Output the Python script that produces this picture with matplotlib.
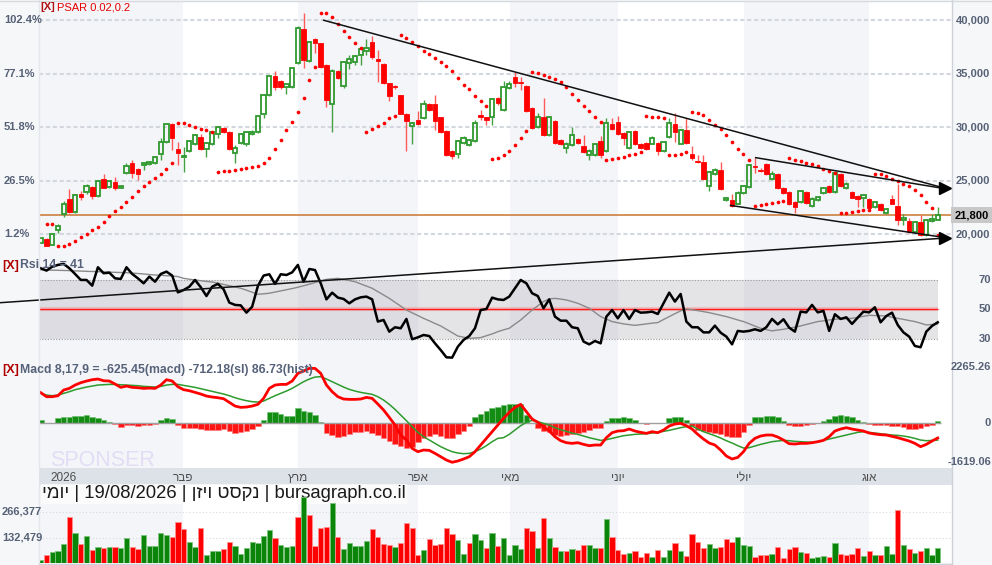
import matplotlib
matplotlib.use('Agg')
import matplotlib.pyplot as plt
import matplotlib.transforms as mtransforms
from matplotlib.lines import Line2D
import numpy as np

plt.rcParams['font.family'] = ['Liberation Sans', 'DejaVu Sans']

# ---------------- data ----------------
open_ = [19220,19600,19030,20440,21930,23340,22060,23740,23960,24430,
         23550,25200,24430,24890,24330,25740,26700,26080,26450,26550,
         26670,27480,28630,30290,27950,27230,27790,28420,29100,27950,
         28420,29350,29970,29570,27640,28540,28420,29350,29510,31280,
         33000,34780,34310,33720,33780,36020,39170,36180,38200,37830,
         35800,32160,35270,33840,36020,36120,36740,37140,37920,36370,
         35900,34090,33840,33000,31220,30100,30660,30880,32160,32160,
         30910,29630,27760,27480,28540,28320,28730,31130,30910,30970,
         32690,31600,33620,34650,34250,33840,31810,30040,30970,29260,
         30570,28790,28100,28320,28880,28260,27390,27390,28730,27790,
         30290,30500,29480,28100,29630,28420,28540,28480,28540,27790,
         29100,30290,28480,29730,27480,26860,26760,24490,25670,26050,
         23180,23240,22870,23870,24430,26390,26050,26550,25210,25610,
         24360,23960,23020,23020,23960,22620,23240,23870,24490,23960,
         25670,24360,23960,23590,23430,23340,22560,22870,22000,23270,
         22620,21370,21250,20220,21150,19910,21250,21370]
close = [19660,18910,20000,20780,22800,22060,23710,23490,24490,23550,
         24990,24360,24960,24330,24490,26390,25740,25670,26670,26760,
         27230,28630,30290,29040,27610,27330,28730,29320,27950,28570,
         29510,30040,29570,27950,28100,29350,29570,29570,31070,33000,
         34780,33720,33720,34000,35550,39230,36270,37990,37830,35650,
         32590,35270,34620,36120,36330,36650,37270,37420,36580,36210,
         34090,32940,33720,31280,30600,30410,30290,32160,31600,30600,
         29570,27390,27330,28730,29040,28790,30350,30970,30660,32660,
         32220,33780,34000,34090,34150,31530,29940,30970,29260,30970,
         28540,28480,28480,29260,28540,27700,27790,28420,27390,30350,
         29820,29410,29040,29510,28390,28100,28010,29040,27790,28630,
         30410,29570,29730,28540,27080,26760,25210,25830,26050,24270,
         23400,22620,23900,24520,26450,26300,25920,25610,25670,24360,
         23870,22870,22560,24050,22930,23340,23490,24360,23960,25740,
         24520,24680,23430,23340,23650,22490,23020,22310,22400,22870,
         21370,21560,20220,21150,19910,21310,21470,21800]
high = [19700,19650,20050,21000,23090,24270,23800,24050,24740,24500,
        25050,25610,25050,25360,24550,26670,26980,26150,26760,26850,
        27350,29010,30350,30350,28630,28170,28850,29400,29410,28650,
        29600,30100,30050,29650,28300,29450,29650,29700,31150,33100,
        34850,35270,34400,34100,35650,39450,40700,38100,38300,37900,
        35900,35400,35350,36200,36740,36750,37350,38200,38520,37210,
        36000,34150,33950,33050,31300,30500,31530,32530,32250,33000,
        31000,29700,27850,28800,29200,28900,30660,31590,31000,32750,
        32800,34310,34310,35180,34650,33900,31900,31350,32690,31050,
        30650,28900,28600,29980,29000,29320,28010,28500,29160,30820,
        30820,31030,29550,29600,29700,28500,28650,29150,28600,28700,
        30900,31350,29800,30820,28230,27390,27390,25950,26200,26760,
        23500,23740,24000,24600,26550,27170,26200,26650,25920,25700,
        24450,24050,23100,24150,24050,23450,23600,24450,24600,25850,
        25750,24900,24050,23700,23750,23430,23100,22950,22500,23650,
        24680,21930,21500,21250,21780,21400,21900,22560]
low = [19200,18880,19000,20160,21620,21950,22000,23240,23800,23270,
       23500,24300,24350,24100,24300,25650,25260,25110,26000,26450,
       26600,26950,28500,27860,26450,25830,27700,28350,27900,27230,
       28350,28980,29500,27850,26670,28450,28260,29250,29450,30820,
       32900,33470,33600,33150,33700,35900,35490,36100,36890,35550,
       31910,29570,34500,33700,35400,35770,35800,36750,36350,34250,
       34000,32470,33600,31200,27790,28480,30200,30800,31500,29730,
       29450,27300,27000,27170,28450,28250,28650,30660,30190,30190,
       32100,31500,33550,33780,33470,31450,29850,29950,29150,29150,
       28450,28350,27590,28250,28400,27600,26980,27300,27170,27700,
       29700,29300,28320,28000,28300,27950,27900,28400,27380,27700,
       29000,28630,28400,28450,26950,26650,25100,24050,25550,24150,
       23100,22550,22800,23800,24350,25740,25800,25500,25100,24250,
       23750,22750,22000,22950,22850,22550,23150,23800,23850,23850,
       24400,24250,23350,22560,22560,22400,22450,22200,21900,22800,
       20840,20900,20150,20100,19850,19850,21150,21300]
psar = [np.nan,21000,21000,18910,18910,19130,19380,19750,20060,20370,
        20690,21150,21680,22180,22560,23020,23490,24050,24520,24890,
        25300,25670,26140,26700,30410,30410,30190,30040,29880,29730,
        29580,25830,25890,25920,25980,26080,26200,26300,26390,26670,
        27170,28010,28790,29730,30500,31440,32690,34400,35650,40700,
        40640,40260,39640,39010,38450,37890,37420,29570,29790,30100,
        30410,30820,31070,38610,38360,37980,37610,37140,36830,36490,
        36120,35740,35270,34560,33930,33530,32900,32470,31970,27010,
        27140,27390,27760,28320,29010,29660,35180,35020,34870,34710,
        34490,34250,33720,33060,32530,32000,31500,30970,30450,26920,
        27010,27140,27230,27390,27480,27700,31030,30970,30970,30820,
        27380,27390,27540,27700,31440,31350,31130,30720,30190,29880,
        29260,28630,28010,27480,26920,22620,22770,22870,22960,23050,
        23120,27080,26980,26860,26700,26550,26360,26140,25920,25770,
        21990,22030,22090,22150,22240,22310,25670,25610,25450,25210,
        24990,24740,24520,24110,23650,23020,22490,19900]
volume = [17500,41700,57000,64000,98000,237000,155000,98000,139600,69000,
          83000,78000,83000,83000,78000,129000,83000,73000,145000,88000,
          88000,155000,145000,134000,215000,175000,108000,83000,181000,43000,
          64000,64000,73000,108000,88000,47000,78000,108000,103000,139000,
          174000,129000,93000,83000,88000,237000,340000,248000,88000,181000,
          186000,309000,134000,73000,103000,88000,88000,114000,175000,134000,
          98000,93000,83000,103000,206000,181000,41700,67000,124000,93000,
          98000,181000,150000,119000,47000,103000,150000,119000,78000,155000,
          88000,129000,41700,93000,73000,181000,166000,78000,232000,129000,
          83000,62000,62000,73000,67000,93000,93000,78000,78000,227000,
          134000,67000,47000,52000,62000,31000,52000,31000,67000,31000,
          67000,103000,62000,36000,150000,108000,78000,98000,78000,83000,
          124000,108000,134000,93000,88000,31000,41700,41700,47000,83000,
          26000,73000,83000,57000,52000,26000,31000,36000,31000,103000,
          47000,41700,47000,78000,36000,62000,41700,41700,88000,47000,
          275000,93000,73000,52000,62000,78000,41700,78000]
volume_dir = ("GRGGGRGRGR" "GRGRGGRRGG" "GGGRRRGGRG" "GGRRGGGGGG"
              "GRGGGRGRRR" "RGRGGGGGRR" "RRGRRRRGRR" "RRRGGRGGRG"
              "RGGGGRRGRG" "RGRGRRGGRG" "RRRGRRRGRG" "GRGRRRRGGR"
              "RRGGGRRRGR" "RRRGRGGGRG" "RRRRGRGRGG" "RGRGRGGG")
rsi = [78.1,76.5,79.2,80.4,81.1,78.1,74.2,70.1,70.1,66.2,
       78.8,74.7,75.1,71.2,70.8,78.8,74.2,71.2,67.8,72.4,
       68.9,74.2,75.8,73.1,61.6,63.2,65.5,70.1,65.1,59.1,
       65.5,67.4,63.7,54.6,53.0,52.7,47.7,51.8,66.0,73.1,
       74.0,67.4,74.0,73.5,75.3,80.4,68.9,77.6,76.9,67.8,
       56.8,61.4,58.0,57.1,54.1,56.8,58.2,58.7,56.8,41.6,
       42.7,34.7,37.7,37.0,43.4,29.5,30.8,32.4,31.7,26.7,
       22.1,17.1,16.9,24.4,29.0,31.7,37.0,49.5,50.2,58.0,
       56.8,56.4,58.7,64.4,70.1,67.8,61.0,59.1,50.7,56.8,
       45.0,42.2,42.2,37.7,37.0,27.9,26.0,28.3,26.7,45.0,
       49.5,43.8,49.5,43.4,49.5,47.7,47.9,48.4,46.8,54.1,
       61.4,55.3,60.5,41.6,37.7,37.7,34.2,34.2,38.8,34.0,
       31.3,26.0,35.2,34.7,35.2,36.3,35.2,37.7,43.4,39.7,
       43.2,37.4,34.7,48.4,47.9,53.0,47.9,48.9,35.2,46.6,
       43.4,44.5,40.0,44.3,48.4,47.9,51.4,41.1,45.4,47.7,
       39.3,34.2,31.3,24.9,24.0,34.7,38.6,41.1]
rsi_ma = [77.0,76.9,76.8,76.7,76.6,76.5,76.3,76.2,76.0,75.9,
          75.8,75.6,75.5,75.3,75.2,75.1,74.8,74.5,74.2,73.8,
          73.5,73.3,73.0,72.8,72.4,71.2,70.6,70.1,69.6,69.1,
          68.7,67.9,67.0,66.2,65.3,64.4,63.1,61.7,60.3,60.6,
          61.0,61.8,62.6,63.4,64.2,65.1,66.1,67.2,68.3,69.4,
          70.5,70.9,71.2,70.4,69.7,68.9,67.4,65.9,64.4,62.1,
          59.8,57.5,54.8,52.2,49.5,47.6,45.7,43.8,42.1,40.3,
          38.6,36.3,34.0,31.7,30.9,30.1,30.3,30.6,31.9,33.1,
          34.7,35.9,37.0,39.9,42.7,46.1,49.5,52.4,55.3,57.1,
          57.5,57.0,56.4,55.3,54.1,52.4,50.7,47.9,45.0,43.3,
          41.6,40.8,40.0,39.5,39.0,39.5,40.0,40.5,40.9,43.0,
          45.0,47.0,48.9,50.2,49.7,49.1,48.4,47.7,46.8,45.9,
          45.0,43.9,42.7,41.6,40.1,38.5,37.0,36.1,35.2,35.8,
          36.3,37.1,37.8,38.6,39.6,40.6,41.6,42.1,42.7,43.2,
          43.4,43.6,43.8,44.5,45.2,45.9,45.7,45.6,45.4,44.6,
          43.8,43.1,42.3,41.6,40.5,39.3,39.6,40.0]
macd = [1227,1063,1063,1104,1336,1404,1540,1636,1704,1758,
        1786,1717,1704,1581,1445,1499,1445,1431,1404,1417,
        1404,1540,1758,1704,1472,1349,1308,1240,1172,1090,
        1050,1022,981,831,681,627,641,681,750,995,
        1404,1540,1567,1567,1704,2017,2113,2222,2222,2017,
        1540,1268,1063,968,954,954,968,1036,995,763,
        518,218,-95,-504,-709,-1050,-1186,-1118,-1131,-1254,
        -1390,-1527,-1619,-1567,-1486,-1390,-1186,-913,-641,-368,
        -95,177,423,627,750,450,150,14,-163,-341,
        -572,-736,-818,-845,-818,-886,-940,-913,-913,-613,
        -409,-341,-327,-259,-341,-395,-436,-368,-409,-300,
        -136,-55,-27,-123,-259,-477,-668,-831,-913,-1118,
        -1363,-1486,-1418,-1186,-845,-641,-545,-504,-504,-586,
        -709,-859,-872,-845,-845,-818,-777,-722,-572,-341,
        -259,-204,-259,-300,-341,-423,-463,-491,-504,-559,
        -613,-681,-750,-845,-981,-886,-750,-625.45]
signal = [1199,1131,1104,1131,1199,1268,1349,1404,1458,1499,
          1540,1554,1567,1567,1554,1540,1527,1513,1486,1472,
          1458,1486,1540,1567,1567,1527,1486,1445,1390,1336,
          1281,1227,1172,1104,1022,954,900,859,845,886,
          995,1104,1199,1295,1404,1540,1676,1786,1867,1881,
          1786,1676,1567,1458,1363,1295,1240,1199,1159,1063,
          927,750,545,313,82,-164,-395,-572,-709,-845,
          -981,-1090,-1186,-1240,-1268,-1254,-1186,-1077,-940,-777,
          -641,-613,-477,-300,-123,14,95,41,-27,-95,
          -204,-286,-354,-423,-477,-545,-613,-668,-722,-695,
          -641,-586,-532,-504,-477,-463,-450,-423,-395,-354,
          -313,-259,-204,-164,-136,-259,-368,-450,-532,-627,
          -736,-831,-940,-1036,-1022,-954,-886,-831,-777,-750,
          -722,-736,-763,-777,-791,-804,-777,-722,-668,-613,
          -559,-504,-450,-395,-368,-395,-423,-450,-477,-504,
          -518,-545,-586,-641,-709,-736,-722,-712.18]
hist = [95,-15,-10,177,218,245,272,272,300,232,
        204,109,41,-68,-163,-95,-109,-123,-109,-95,
        -55,109,177,136,-95,-204,-204,-204,-259,-300,
        -300,-300,-259,-341,-436,-395,-341,-259,-123,109,
        423,423,341,286,286,613,477,423,313,41,
        -436,-504,-572,-532,-477,-395,-368,-341,-409,-504,
        -641,-750,-886,-940,-1022,-981,-804,-613,-532,-477,
        -532,-613,-613,-477,-341,-123,245,341,477,586,
        654,722,750,750,777,313,-27,-204,-341,-368,
        -504,-532,-504,-463,-436,-395,-300,-232,-204,68,
        177,204,218,204,95,-27,-41,-27,-14,0,
        177,218,218,95,-123,-300,-341,-395,-436,-477,
        -545,-572,-572,-395,-95,218,245,259,259,218,
        82,-95,-150,-136,-95,-55,0,82,150,272,
        313,286,218,109,14,-68,-95,-95,-109,-123,
        -136,-163,-245,-259,-232,-150,-82,86.73]

price_ticks = [40000, 35000, 30000, 25000, 20000]
price_tick_labels = ['40,000', '35,000', '30,000', '25,000', '20,000']
pct_tick_labels = ['102.4%', '77.1%', '51.8%', '26.5%', '1.2%']
last_price = 21800
month_names = ['2026', 'פבר', 'מרץ', 'אפר', 'מאי', 'יוני', 'יולי', 'אוג']
month_label_pos = [3.9, 24.9, 45.0, 66.0, 82.1, 101.0, 123.1, 145.0]
month_bounds = [24.9, 45.0, 66.0, 82.1, 101.0, 123.1, 145.0]
vol_ticks = [266377, 132479]
vol_tick_labels = ['266,377', '132,479']
macd_ticks = [2265.26, 0, -1619.06]
macd_tick_labels = ['2265.26', '0', '-1619.06']
rsi_ticks = [70, 50, 30]
# trend lines (index, price)
trend_lines = [([49.4, 158.3], [40010, 24300]),
               ([125.0, 158.3], [27170, 24260]),
               ([120.6, 158.3], [22710, 19690]),
               ([-7.14, 158.3], [13610, 19650])]
arrow_tips = ([158.3, 158.3], [24290, 19670])

# ---------------- layout ----------------
W, H = 992, 565
fig = plt.figure(figsize=(W / 100, H / 100), dpi=100, facecolor='#f6f7f9')

def rect(top, bottom, left=39, right=952):
    return [left / W, 1 - bottom / H, (right - left) / W, (bottom - top) / H]

N = len(close)
idx = np.arange(N)
XL = (-0.315, 159.5)
o = np.array(open_, float); c = np.array(close, float)
hi = np.array(high, float); lo = np.array(low, float)
up = c >= o

LABEL = '#566176'
SHADE = '#f4f5f8'

def vis(s):
    # matplotlib has no bidi: reverse Hebrew runs for visual order
    return s[::-1] if any('\u0590' <= ch <= '\u05ff' for ch in s) else s

def base_axes(r, z=1):
    ax = fig.add_axes(r)
    ax.set_xlim(XL)
    ax.set_facecolor('white')
    for s in ax.spines.values():
        s.set_visible(False)
    ax.set_xticks([]); ax.set_yticks([])
    ax.set_zorder(z)
    starts = [XL[0]] + month_bounds
    ends = month_bounds + [XL[1]]
    for k, (a, b) in enumerate(zip(starts, ends)):
        if k % 2 == 0:
            ax.axvspan(a, b, color=SHADE, lw=0, zorder=0)
    return ax

# ---- price panel ----
ax_p = base_axes(rect(2, 253), z=5)
ax_p.set_ylim(20000 - 18.7 * 93.4, 20000 + 232.3 * 93.4)
for t in price_ticks:
    ax_p.axhline(t, color='#d3d7de', lw=1.5, ls=(0, (2, 1.3)), zorder=1)
ax_p.axhline(last_price, color='#c8752f', lw=1.1, zorder=2)

gcol, rcol = '#2f9a2f', '#ff0000'
body_lo = np.minimum(o, c); body_hi = np.maximum(o, c)
wick_cols = np.where(up, '#45a045', '#ff5a5a')
ax_p.vlines(idx, lo, body_lo, colors=wick_cols, lw=1.0, zorder=3)
ax_p.vlines(idx, body_hi, hi, colors=wick_cols, lw=1.0, zorder=3)
heights = np.maximum(body_hi - body_lo, 45)
ax_p.bar(idx[up], heights[up], bottom=body_lo[up], width=0.74,
         facecolor='none', edgecolor=gcol, lw=1.3, zorder=3)
ax_p.bar(idx[~up], heights[~up], bottom=body_lo[~up], width=0.8,
         facecolor=rcol, edgecolor=rcol, lw=0.6, zorder=3)
ax_p.scatter(idx, psar, s=7, color='#ff0000', linewidths=0, zorder=4)
for xs, ys in trend_lines:
    ax_p.plot(xs, ys, color='#111111', lw=1.1, zorder=6, clip_on=False,
              solid_capstyle='butt')
ax_p.plot(arrow_tips[0], arrow_tips[1], ls='none', marker='>', ms=8,
          color='black', zorder=7, clip_on=False)

# ---- RSI panel ----
ax_r = base_axes(rect(253, 362), z=2)
ax_r.set_ylim(50 - (362 - 309.3) / 1.46, 50 + (309.3 - 253) / 1.46)
ax_r.fill_between([XL[0], N - 1], 30, 70, color='#9c9ca8', alpha=0.27, lw=0, zorder=1)
ax_r.hlines([30, 70], XL[0], N - 1, colors='#9a9a9a', lw=0.8, ls=(0, (1, 1.5)), zorder=2)
ax_r.hlines(50, XL[0], N - 1, colors='#ff8080', lw=3, alpha=0.35, zorder=2)
ax_r.hlines(50, XL[0], N - 1, colors='#ff1a1a', lw=1.0, zorder=2)
ax_r.plot(idx, rsi_ma, color='#8a8a8a', lw=1.0, zorder=3)
ax_r.plot(idx, rsi, color='#000000', lw=1.8, zorder=4)

# ---- MACD panel ----
ax_m = base_axes(rect(362, 467.7), z=2)
ax_m.set_ylim(-45 * 40.9, 60.7 * 40.9)
hv = np.array(hist, float)
ax_m.bar(idx, hv, width=0.96, color=np.where(hv >= 0, '#128c12', '#ff1414'),
         edgecolor=np.where(hv >= 0, '#6cbd6c', '#ff7a7a'), lw=0.4, zorder=2)
ax_m.hlines(0, XL[0], N - 0.5, colors='#a0a0a0', lw=1.0, zorder=2)
ax_m.plot(idx, signal, color='#2e9b2e', lw=1.1, zorder=3)
ax_m.plot(idx, macd, color='#ff0000', lw=2.0, zorder=4)

# ---- month band ----
ax_b = fig.add_axes(rect(467.7, 485))
ax_b.set_xlim(XL); ax_b.set_ylim(0, 1)
ax_b.set_facecolor('#dde1e8')
for s in ax_b.spines.values():
    s.set_visible(False)
ax_b.set_xticks([]); ax_b.set_yticks([])
for name, pos in zip(month_names, month_label_pos):
    ax_b.text(pos, 0.42, vis(name), ha='center', va='center', fontsize=8.5,
              color='#4d4d4d')

# ---- volume panel ----
ax_v = base_axes(rect(485, 563.4), z=2)
ax_v.set_ylim(0, 78.4 * 5150)
for t in vol_ticks:
    ax_v.axhline(t, color='#d6d9de', lw=0.8, ls=(0, (1, 2)), zorder=1)
vup = np.array([d == 'G' for d in volume_dir])
ax_v.bar(idx, volume, width=0.92, color=np.where(vup, '#0a850a', '#ff0000'),
         edgecolor=np.where(vup, '#7cc47c', '#ff9090'), lw=0.6, zorder=3)
title = vis('יומי') + ' | 19/08/2026 | ' + vis('נקסט ויזן') + ' | bursagraph.co.il'
ax_v.text(42 / W, 1 - 494 / H, title, transform=fig.transFigure, fontsize=13.3,
          color='#1a1a1a', va='center', ha='left', zorder=2,
          bbox=dict(facecolor='white', alpha=0.65, edgecolor='none', pad=1.0))

# ---------------- tick labels ----------------
def tr(ax):
    return mtransforms.blended_transform_factory(fig.transFigure, ax.transData)

kw = dict(fontsize=8, color=LABEL, fontweight='bold', va='center', zorder=10)
for t, lab, pl in zip(price_ticks, price_tick_labels, pct_tick_labels):
    fig.text(990 / W, t, lab, transform=tr(ax_p), ha='right', **kw)
    fig.text(4 / W, t, pl, transform=tr(ax_p), ha='left', **kw)
fig.text(989 / W, last_price, f'{last_price:,}', transform=tr(ax_p), ha='right',
         va='center', fontsize=8, fontweight='bold', color='black', zorder=10,
         bbox=dict(boxstyle='square,pad=0.3', facecolor='#c8c8c8', edgecolor='none'))
for t in rsi_ticks:
    fig.text(991 / W, t, str(t), transform=tr(ax_r), ha='right', **kw)
for t, lab in zip(macd_ticks, macd_tick_labels):
    fig.text(991 / W, t, lab, transform=tr(ax_m), ha='right', **kw)
for t, lab in zip(vol_ticks, vol_tick_labels):
    fig.text(2 / W, t, lab, transform=tr(ax_v), ha='left', **kw)

# indicator titles
def fy(y):
    return 1 - y / H
fig.text(40 / W, fy(7), '[X]', color='#b01010', fontsize=8, fontweight='bold', va='center', zorder=10)
fig.text(57 / W, fy(7), 'PSAR 0.02,0.2', color='#e60000', fontsize=8, va='center', zorder=10)
fig.text(2 / W, fy(265.5), '[X]', color='#b00000', fontsize=9, fontweight='bold', va='center', zorder=10)
fig.text(20.5 / W, fy(265.5), 'Rsi 14 = 41', color='#56627a', fontsize=8.8, fontweight='bold', va='center', zorder=10)
fig.text(2 / W, fy(370.5), '[X]', color='#b00000', fontsize=9, fontweight='bold', va='center', zorder=10)
fig.text(20.5 / W, fy(370.5), 'Macd 8,17,9 = -625.45(macd) -712.18(sl) 86.73(hist)',
         color='#56627a', fontsize=8.8, fontweight='bold', va='center', zorder=10)
fig.text(50 / W, fy(460), 'SPONSER', color='#e2ddf5', fontsize=15.5,
         va='center', zorder=10)

# frame lines
def fline(x0, y0, x1, y1, col, lw=1.0):
    fig.add_artist(Line2D([x0 / W, x1 / W], [fy(y0), fy(y1)], transform=fig.transFigure,
                          color=col, lw=lw, zorder=6))
fline(952, 0, 952, 565, '#cdd1d8')
fline(39, 0, 39, 467.7, '#e4e7eb')
fline(39, 485, 39, 565, '#e4e7eb')
fline(0, 0.6, 992, 0.6, '#d6d9de')
fline(39, 563.6, 952, 563.6, '#cdd1d8')

fig.savefig('out.png', dpi=100, facecolor=fig.get_facecolor())
